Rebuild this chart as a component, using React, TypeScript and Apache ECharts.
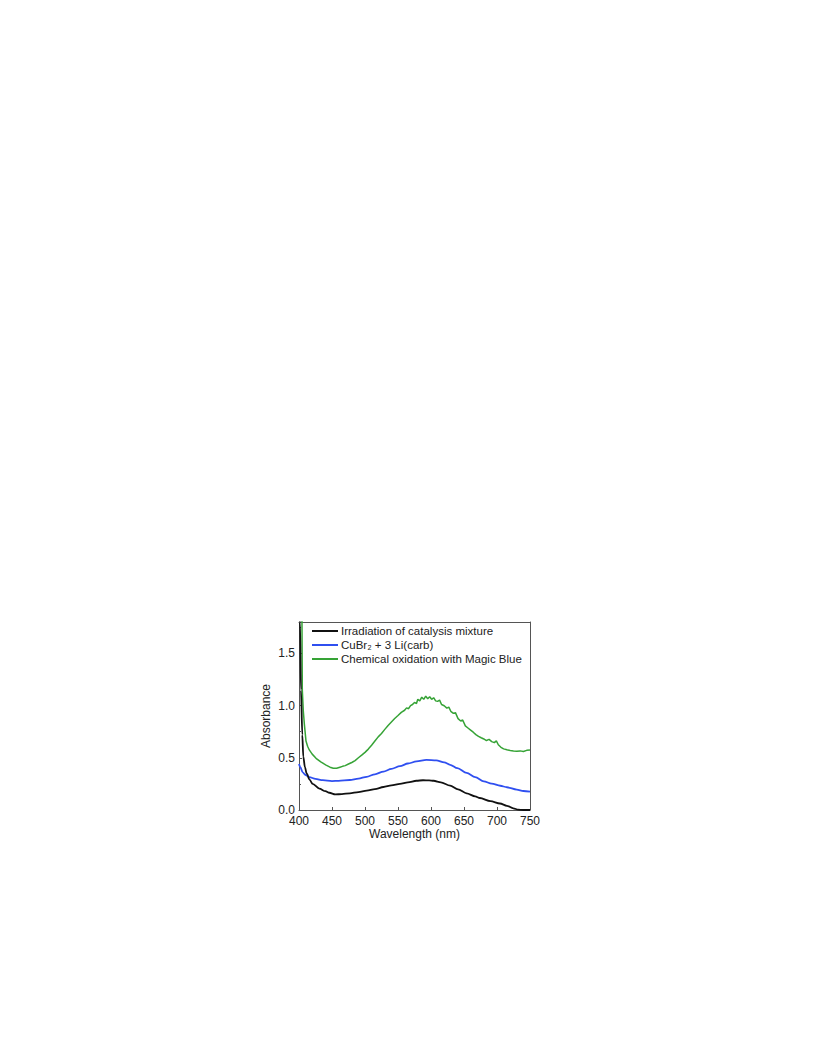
import React, { useEffect, useRef } from "react";
import * as echarts from "echarts";

const seriesNames = [
  "Irradiation of catalysis mixture",
  "CuBr\u2082 + 3 Li(carb)",
  "Chemical oxidation with Magic Blue",
];

const xTicks = [400, 450, 500, 550, 600, 650, 700, 750];
const yTicks = [0.0, 0.5, 1.0, 1.5];

const blackData: [number, number][] = [
  [400, 2.6], [401.5, 1.8], [403, 1.15], [405, 0.72], [406.5, 0.51], [409, 0.41],
  [411.6, 0.35], [416, 0.29], [420.7, 0.25], [430.8, 0.205], [440, 0.18], [446, 0.165],
  [455, 0.15], [465, 0.152], [477, 0.16], [490, 0.172], [502.5, 0.186], [515, 0.2],
  [528, 0.22], [540, 0.235], [553, 0.25], [565, 0.265], [578, 0.28], [588, 0.285],
  [597, 0.284], [604, 0.28], [615, 0.265], [629, 0.234], [641, 0.198], [654, 0.16],
  [667, 0.13], [674, 0.115], [690, 0.085], [704.5, 0.062], [715, 0.04], [724.7, 0.016],
  [732, 0.003], [740, 0.0], [750, 0.0],
];

const blueData: [number, number][] = [
  [400, 0.44], [402, 0.41], [405.6, 0.36], [410, 0.335], [415.6, 0.315], [425, 0.298],
  [436, 0.286], [450, 0.277], [460, 0.279], [477, 0.287], [490, 0.3], [502.5, 0.318],
  [515, 0.342], [528, 0.368], [540, 0.394], [553, 0.42], [565, 0.445], [578, 0.465],
  [593, 0.479], [608, 0.475], [620, 0.456], [629, 0.433], [640, 0.4], [654, 0.355],
  [667, 0.315], [680, 0.275], [692, 0.252], [705, 0.232], [715, 0.218], [730, 0.195],
  [740, 0.182], [750, 0.175],
];

const greenData: [number, number][] = [
  [403.5, 2.6], [404.5, 1.8], [405, 1.15], [406.5, 0.95], [408, 0.83], [410.6, 0.66],
  [413, 0.61], [415.6, 0.575], [420, 0.535], [425.8, 0.495], [433, 0.46], [441, 0.43],
  [447, 0.41], [452, 0.4], [457, 0.4], [462, 0.41], [466, 0.418], [470, 0.425],
  [475, 0.44], [480, 0.455], [485, 0.473], [490, 0.5], [495, 0.525], [500, 0.552],
  [505, 0.583], [510, 0.62], [515, 0.66], [520, 0.7], [525, 0.733], [530, 0.772],
  [535, 0.81], [540, 0.843], [545, 0.876], [550, 0.905], [555, 0.935], [560, 0.955],
  [563, 0.978], [566, 0.97], [569, 1.0], [572, 1.01], [575, 1.03], [578, 1.02],
  [580, 1.06], [583, 1.045], [586, 1.08], [589, 1.06], [592, 1.09], [595, 1.065],
  [598, 1.085], [601, 1.06], [604, 1.075], [607, 1.045], [610, 1.04], [613, 1.052],
  [616, 1.01], [620, 0.998], [624, 0.975], [627, 0.985], [630, 0.945], [634, 0.925],
  [637, 0.932], [641, 0.875], [645, 0.852], [648, 0.862], [652, 0.805], [656, 0.785],
  [660, 0.765], [664, 0.745], [668, 0.722], [672, 0.705], [676, 0.692], [680, 0.68],
  [684, 0.665], [688, 0.676], [692, 0.655], [696, 0.645], [699, 0.662], [702, 0.625],
  [706, 0.6], [710, 0.585], [715, 0.576], [720, 0.57], [725, 0.565], [730, 0.562],
  [735, 0.566], [740, 0.56], [745, 0.571], [750, 0.575],
];

const FONT = "Liberation Sans, Arial, sans-serif";
const AXIS_COLOR = "#555";
const TEXT_COLOR = "#222";

export default function App() {
  const ref = useRef<HTMLDivElement>(null);
  useEffect(() => {
    if (!ref.current) return;
    const chart = echarts.init(ref.current, undefined, { renderer: "svg" });
    const lineStyleBase = { width: 1.8 };
    chart.setOption({
      animation: false,
      backgroundColor: "#fff",
      textStyle: { fontFamily: FONT },
      grid: { left: 299, right: 286, top: 622, bottom: 246, containLabel: false },
      legend: {
        left: 312,
        top: 625,
        padding: 0,
        orient: "vertical",
        icon: "rect",
        itemWidth: 26,
        itemHeight: 2,
        itemGap: 2,
        textStyle: { fontFamily: FONT, fontSize: 11.5, color: TEXT_COLOR, lineHeight: 12, padding: [0, 0, 0, -2] },
        data: seriesNames,
      },
      xAxis: [
        {
          type: "value",
          min: xTicks[0],
          max: xTicks[xTicks.length - 1],
          interval: 50,
          name: "Wavelength (nm)",
          nameLocation: "middle",
          nameGap: 17,
          nameTextStyle: { fontFamily: FONT, fontSize: 12, color: TEXT_COLOR },
          axisLine: { show: true, onZero: false, lineStyle: { color: AXIS_COLOR, width: 1 } },
          axisTick: { show: true, inside: true, length: 3, lineStyle: { color: AXIS_COLOR } },
          axisLabel: { fontFamily: FONT, fontSize: 12, color: TEXT_COLOR, margin: 5 },
          splitLine: { show: false },
        },
        {
          type: "value",
          position: "top",
          min: xTicks[0],
          max: xTicks[xTicks.length - 1],
          interval: 50,
          axisLine: { show: true, onZero: false, lineStyle: { color: AXIS_COLOR, width: 1 } },
          axisTick: { show: false },
          axisLabel: { show: false },
          splitLine: { show: false },
        },
      ],
      yAxis: [
        {
          type: "value",
          min: 0,
          max: 1.8,
          interval: 0.5,
          name: "Absorbance",
          nameLocation: "middle",
          nameGap: 27,
          nameTextStyle: { fontFamily: FONT, fontSize: 12, color: TEXT_COLOR },
          axisLine: { show: true, onZero: false, lineStyle: { color: AXIS_COLOR, width: 1 } },
          axisTick: { show: true, inside: true, length: 3, lineStyle: { color: AXIS_COLOR } },
          minorTick: { show: true, splitNumber: 2, length: 2, lineStyle: { color: AXIS_COLOR } },
          axisLabel: {
            fontFamily: FONT,
            fontSize: 12,
            color: TEXT_COLOR,
            margin: 4,
            formatter: (v: number) => (yTicks.includes(v) ? v.toFixed(1) : ""),
          },
          splitLine: { show: false },
          minorSplitLine: { show: false },
        },
        {
          type: "value",
          position: "right",
          min: 0,
          max: 1.8,
          interval: 0.5,
          axisLine: { show: true, onZero: false, lineStyle: { color: AXIS_COLOR, width: 1 } },
          axisTick: { show: false },
          axisLabel: { show: false },
          splitLine: { show: false },
        },
      ],
      series: [
        {
          name: seriesNames[0],
          type: "line",
          data: blackData,
          showSymbol: false,
          smooth: 0.3,
          smoothMonotone: "x",
          color: "#111111",
          lineStyle: { ...lineStyleBase, color: "#111111" },
          clip: true,
          z: 3,
        },
        {
          name: seriesNames[1],
          type: "line",
          data: blueData,
          showSymbol: false,
          smooth: 0.3,
          smoothMonotone: "x",
          color: "#2f4ff0",
          lineStyle: { ...lineStyleBase, color: "#2f4ff0" },
          clip: true,
          z: 2,
        },
        {
          name: seriesNames[2],
          type: "line",
          data: greenData,
          showSymbol: false,
          color: "#36a336",
          lineStyle: { width: 1.5, color: "#36a336" },
          clip: true,
          z: 1,
        },
      ],
    });
    return () => chart.dispose();
  }, []);
  return (
    <div
      ref={ref}
      style={{ position: "fixed", left: 0, top: 0, width: 816, height: 1056 }}
    />
  );
}
